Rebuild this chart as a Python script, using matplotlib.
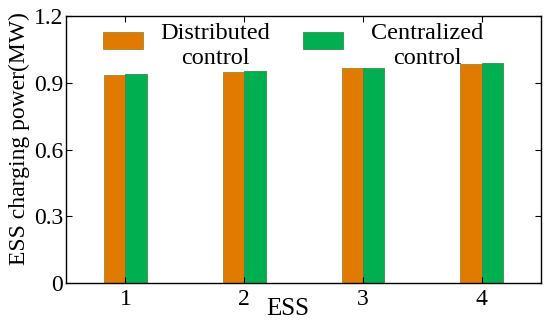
import numpy as np
import matplotlib.pyplot as plt

plt.rcParams['font.family'] = ['Liberation Serif', 'DejaVu Serif']

ess = [1, 2, 3, 4]
distributed = [0.935, 0.950, 0.965, 0.983]
centralized = [0.938, 0.953, 0.968, 0.987]

orange = '#E07B00'
green = '#00B050'


def main():
    fig = plt.figure(figsize=(5.5, 3.25), dpi=100)
    ax = fig.add_axes([0.12, 0.129, 0.864, 0.822])

    x = np.array(ess)
    w = 0.18
    ax.bar(x - w / 2, distributed, w, color=orange, edgecolor='#9a8a30', linewidth=0.6,
           label='Distributed\ncontrol')
    ax.bar(x + w / 2, centralized, w, color=green, edgecolor='#3a8a50', linewidth=0.6,
           label='Centralized\ncontrol')

    ax.set_xlim(0.5, 4.5)
    ax.set_ylim(0, 1.2)
    ax.set_xticks(ess)
    ax.set_yticks([0, 0.3, 0.6, 0.9, 1.2])
    ax.set_yticklabels(['0', '0.3', '0.6', '0.9', '1.2'])
    ax.tick_params(direction='in', top=True, right=True, labelsize=17, pad=2, length=4)
    ax.tick_params(axis='x', pad=4)
    for s in ax.spines.values():
        s.set_linewidth(1.0)

    ax.set_xlabel('ESS', fontsize=18)
    ax.xaxis.set_label_coords(0.467, -0.055)
    ax.set_ylabel('ESS charging power(MW)', fontsize=17)
    ax.yaxis.set_label_coords(-0.075, 0.54)

    leg = ax.legend(ncol=2, frameon=False, fontsize=17.5, loc='upper left',
                    bbox_to_anchor=(0.078, 0.975), borderpad=0, borderaxespad=0,
                    handlelength=1.65, handleheight=0.7,
                    columnspacing=1.35, handletextpad=0.7)
    texts = leg.get_texts()
    for t in texts:
        t.set_multialignment('center')
        t.set_linespacing(1.25)
    # second label sits a bit further from its patch
    texts[1].set_x(11)
    for h in leg.legend_handles:
        h.set_y(h.get_y() + 3.5)

    fig.savefig('out.png', dpi=100)


if __name__ == "__main__":
    main()
